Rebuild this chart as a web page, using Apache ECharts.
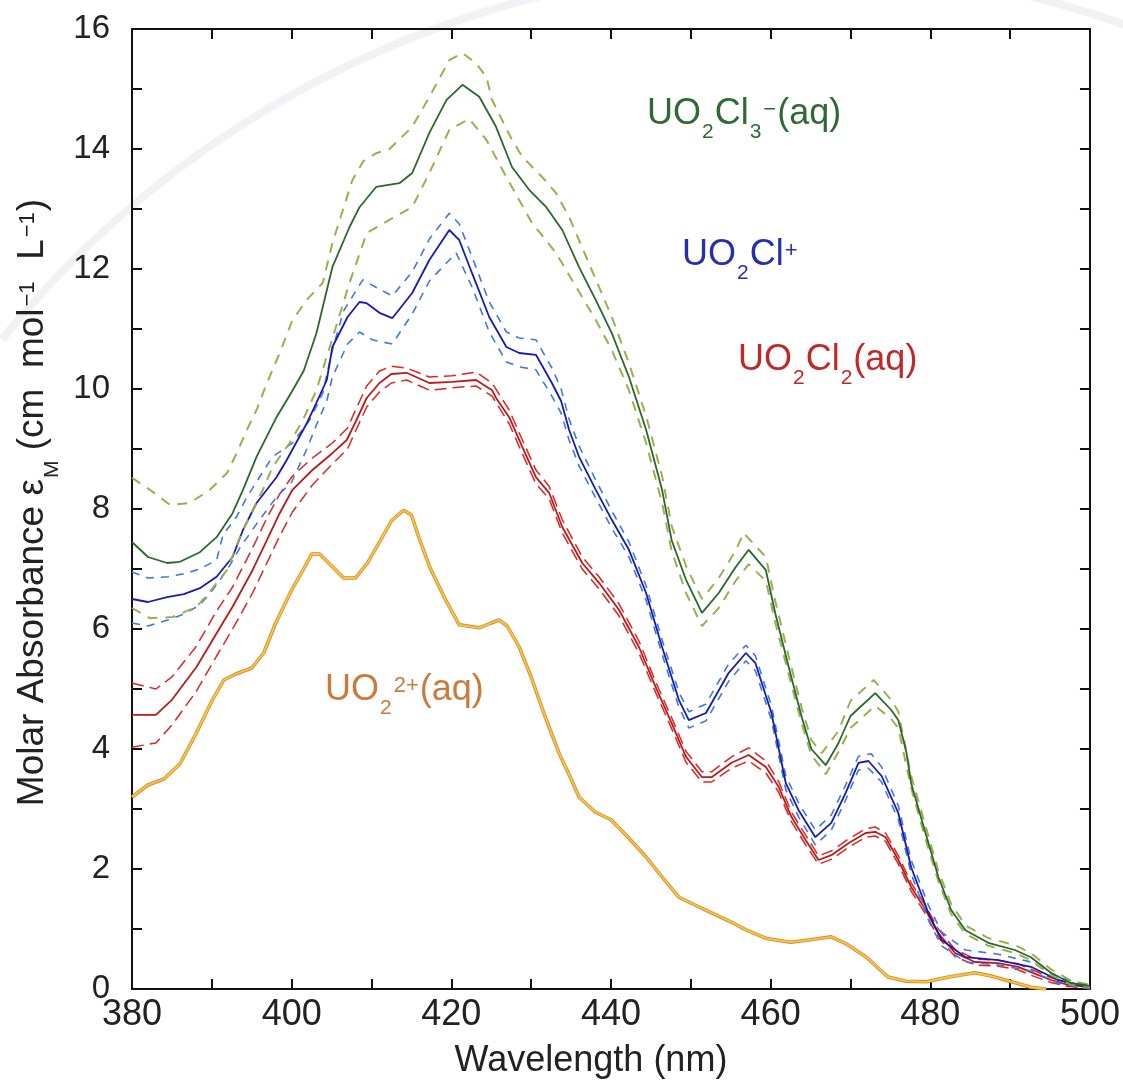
<!DOCTYPE html>
<html>
<head>
<meta charset="utf-8">
<script src="https://cdn.jsdelivr.net/npm/echarts@6/dist/echarts.min.js"></script>
<style>html,body{margin:0;padding:0;background:#fff}#c{width:1123px;height:1085px}</style>
</head>
<body>
<div id="c"></div>
<script>
// ---------- data (wavelength nm, molar absorbance) ----------
const uo2 = [[380,3.2],[382,3.4],[384,3.5],[386,3.75],[388,4.25],[390,4.8],[391.5,5.15],[393,5.25],[395,5.35],[396.5,5.6],[398,6.1],[400,6.65],[401.5,7.0],[402.5,7.25],[403.5,7.25],[405,7.05],[406.5,6.85],[408,6.85],[409.5,7.1],[411,7.45],[412.5,7.8],[414,7.98],[415,7.9],[416,7.5],[417.3,7.03],[419.3,6.48],[421,6.07],[423.5,6.02],[425,6.1],[426,6.15],[427,6.05],[428.5,5.7],[430,5.2],[431,4.82],[432,4.45],[433.5,3.93],[435,3.5],[436,3.2],[438,2.95],[440,2.82],[442,2.55],[444.4,2.2],[446.5,1.85],[448.5,1.53],[450.5,1.4],[452.6,1.27],[455,1.12],[457,0.98],[459.5,0.84],[462.5,0.78],[465,0.82],[467.6,0.87],[469.5,0.75],[472,0.53],[474.7,0.2],[477,0.13],[479.5,0.12],[482.3,0.2],[485.6,0.27],[487.5,0.22],[489.4,0.15],[492.6,0.03],[494.5,0]];

const uo2cl3 = [[380,7.45],[382,7.2],[384.4,7.1],[386,7.12],[388.5,7.28],[390.6,7.53],[392.6,7.93],[393.9,8.32],[395.6,8.87],[398.1,9.53],[400,9.95],[401.5,10.3],[403.1,10.93],[405.1,12.03],[407.25,12.7],[408.5,13.03],[410.6,13.37],[413.5,13.43],[415.1,13.6],[417.25,14.27],[419.4,14.82],[421.4,15.07],[423.5,14.87],[425.6,14.37],[427.6,13.7],[429.75,13.32],[431.9,13.03],[433.9,12.65],[436,12.03],[438.1,11.48],[440.1,10.93],[442.25,10.2],[444.4,9.32],[446.4,8.32],[447.6,7.48],[449.4,6.82],[451.4,6.27],[453.5,6.6],[455.6,7.03],[457.25,7.32],[459.4,6.98],[460.6,6.25],[462.25,5.37],[463.9,4.53],[465.1,4.0],[466.9,3.73],[468.5,4.1],[470,4.55],[473.1,4.93],[475.1,4.65],[476,4.48],[477,3.95],[477.6,3.43],[479.4,2.6],[481,1.87],[482.6,1.32],[484.4,0.98],[487.25,0.77],[490.6,0.65],[492.6,0.53],[495.1,0.27],[497.6,0.1],[500,0.05]];
const uo2cl3Upper = [[380,8.52],[382.25,8.32],[384.75,8.07],[387.25,8.1],[389.75,8.32],[391.9,8.6],[393.1,8.93],[394.4,9.32],[395.6,9.65],[396.9,10.1],[398.5,10.6],[400.1,11.15],[402,11.5],[403.9,11.77],[405.1,12.43],[407.6,13.48],[409,13.8],[410.6,13.93],[412.25,14.0],[415.1,14.37],[417.25,14.87],[419.75,15.48],[421.4,15.6],[423.1,15.43],[424.4,15.2],[425.1,14.82],[427.6,14.15],[428.9,13.87],[431.4,13.53],[433.1,13.27],[434.75,12.87],[436.9,12.2],[440.1,11.2],[442.25,10.43],[444.4,9.55],[446.4,8.55],[447.6,7.72],[449.4,7.05],[451.4,6.5],[453.5,6.85],[455.6,7.3],[456.6,7.6],[459.4,7.2],[460.6,6.45],[462.25,5.55],[463.9,4.68],[465.1,4.15],[466.4,3.93],[468.5,4.3],[470,4.8],[472.9,5.15],[475.1,4.82],[476,4.62],[477.6,3.55],[479.4,2.72],[481,1.97],[482.6,1.42],[484.4,1.06],[487.25,0.85],[490.6,0.73],[492.6,0.6],[495.1,0.33],[497.6,0.14],[500,0.07]];
const uo2cl3Lower = [[380,6.35],[382.25,6.18],[385.1,6.2],[388.1,6.37],[390.1,6.68],[391.9,6.98],[393.5,7.53],[395.1,7.98],[396.4,8.32],[397.6,8.7],[399.75,9.1],[401.4,9.48],[403.1,9.98],[405,10.8],[407.25,11.77],[409.4,12.6],[412.25,12.82],[415.1,13.03],[417.25,13.6],[419.75,14.32],[422.25,14.5],[424.4,14.15],[426.9,13.53],[428.5,13.15],[430.1,12.77],[433.1,12.27],[435.1,11.82],[438.1,11.15],[440.1,10.65],[442.25,9.98],[444.4,9.1],[446.4,8.1],[447.6,7.3],[449.4,6.6],[451.4,6.05],[453.5,6.35],[455.6,6.8],[457.25,7.08],[459.4,6.8],[460.6,6.1],[462.25,5.25],[463.9,4.42],[465.1,3.9],[466.9,3.58],[468.5,3.95],[470,4.35],[473.1,4.72],[475.1,4.5],[476,4.35],[477.6,3.35],[479.4,2.5],[481,1.8],[482.6,1.25],[484.4,0.92],[487.25,0.72],[490.6,0.6],[492.6,0.48],[495.1,0.23],[497.6,0.08],[500,0.03]];

const uo2cl = [[380,6.5],[382,6.45],[384.4,6.53],[386.5,6.58],[388.5,6.68],[390.6,6.87],[392.6,7.2],[393.9,7.65],[395.6,8.1],[398.1,8.53],[399.4,8.82],[401.9,9.43],[403.1,9.77],[404.4,10.15],[405.1,10.7],[407,11.2],[408.5,11.45],[409.4,11.43],[411,11.27],[412.6,11.18],[415.1,11.6],[417.25,12.15],[419.75,12.65],[421,12.48],[422.6,11.93],[424.75,11.2],[426.9,10.7],[428.5,10.6],[430.6,10.57],[432.6,10.1],[433.75,9.8],[434.75,9.32],[436,8.87],[438.1,8.32],[440.1,7.82],[442.25,7.32],[444.4,6.6],[446.4,5.7],[448.5,4.82],[449.75,4.48],[451.9,4.6],[454.75,5.27],[456.9,5.6],[458.1,5.43],[460.1,4.6],[461.9,3.43],[463.5,2.98],[465.6,2.53],[467.6,2.77],[469.4,3.27],[471,3.77],[472.25,3.8],[473.9,3.55],[476,2.93],[477.6,2.03],[479.75,1.27],[481.4,0.82],[484.4,0.53],[488.5,0.48],[492.6,0.37],[496,0.15],[499.75,0.03]];
const uo2clUpper = [[380,6.95],[382,6.85],[384.5,6.87],[386.5,6.92],[388.5,7.0],[390.6,7.15],[391.4,7.57],[393.1,7.87],[394.4,8.2],[397.6,8.87],[400.1,9.1],[402.25,9.48],[403.9,9.93],[405,10.6],[406.5,11.3],[408.9,11.82],[410.5,11.7],[412.6,11.55],[415.1,11.95],[417.25,12.5],[419.75,12.93],[421,12.75],[422.6,12.2],[424.75,11.45],[426.9,10.95],[428.5,10.85],[430.6,10.82],[432.6,10.35],[433.75,10.0],[434.75,9.5],[436,9.05],[438.1,8.48],[440.1,7.97],[442.25,7.45],[444.4,6.72],[446.4,5.82],[448.5,4.95],[449.75,4.62],[451.9,4.75],[454.75,5.42],[456.9,5.73],[458.1,5.55],[460.1,4.72],[461.9,3.55],[463.5,3.1],[465.6,2.65],[467.6,2.9],[469.4,3.4],[471,3.88],[472.6,3.92],[473.9,3.7],[476,3.05],[477.6,2.15],[479.75,1.4],[481.4,0.95],[484.4,0.65],[488.5,0.58],[492.6,0.45],[496,0.2],[500,0.05]];
const uo2clLower = [[380,6.1],[382,6.05],[384.5,6.15],[386.5,6.25],[388.5,6.4],[390.1,6.65],[391.9,6.98],[393.5,7.35],[395.6,7.75],[398.1,8.2],[400,8.45],[401.9,9.0],[403.1,9.4],[404.4,9.8],[405.1,10.2],[407,10.75],[408.5,10.95],[410.1,10.82],[412.6,10.75],[415.1,11.25],[417.25,11.8],[420.6,12.27],[422.6,11.7],[424.75,10.95],[426.9,10.45],[428.5,10.37],[430.6,10.32],[432.6,9.88],[433.75,9.6],[434.75,9.15],[436,8.72],[438.1,8.18],[440.1,7.68],[442.25,7.2],[444.4,6.48],[446.4,5.58],[448.5,4.7],[449.75,4.35],[451.9,4.47],[454.75,5.13],[456.9,5.47],[458.1,5.3],[460.1,4.48],[461.9,3.32],[463.5,2.87],[465.6,2.4],[467.6,2.65],[469.4,3.15],[471,3.65],[472.25,3.68],[473.9,3.45],[476,2.82],[477.6,1.92],[479.75,1.15],[481.4,0.72],[484.4,0.45],[488.5,0.4],[492.6,0.3],[496,0.1],[500,0.0]];

const uo2cl2 = [[380,4.57],[383,4.57],[385,4.82],[388.1,5.37],[390.6,5.93],[392.6,6.37],[395.1,6.98],[396.9,7.48],[398.5,7.93],[400.1,8.32],[402.6,8.65],[405.1,8.93],[406.9,9.15],[408,9.45],[409.4,9.85],[411,10.1],[412.5,10.25],[414.4,10.27],[417.25,10.1],[420.1,10.12],[423.1,10.15],[425.1,9.98],[425.6,9.85],[427.25,9.53],[428.9,9.03],[430.6,8.53],[432.25,8.27],[433.9,7.7],[436.4,7.1],[438.5,6.77],[441,6.32],[443.5,5.7],[445.6,5.03],[447.6,4.43],[449.4,3.87],[451.4,3.53],[452.6,3.53],[455.1,3.77],[457.25,3.9],[459.4,3.7],[461,3.37],[462.6,2.87],[464.4,2.48],[466,2.15],[467.6,2.23],[469.75,2.43],[471.9,2.6],[473.1,2.62],[474.4,2.53],[476,2.15],[477.6,1.7],[479.4,1.32],[481,0.93],[483.1,0.6],[485.6,0.45],[488.5,0.43],[491,0.37],[492.6,0.28],[495.1,0.15],[497.25,0.07],[500,0.03]];
const uo2cl2Upper = [[380,5.1],[383,5.0],[385,5.2],[388,5.7],[390.6,6.3],[392.6,6.7],[395.1,7.35],[396.9,7.85],[398.5,8.25],[400.1,8.55],[402.6,8.85],[405.1,9.1],[407,9.35],[408,9.65],[409.4,10.05],[411,10.3],[412.5,10.38],[414.4,10.35],[417.25,10.2],[420.1,10.22],[423.1,10.28],[425.1,10.1],[427.25,9.65],[428.9,9.15],[430.6,8.65],[432.25,8.38],[433.9,7.82],[436.4,7.2],[438.5,6.87],[441,6.42],[443.5,5.8],[445.6,5.12],[447.6,4.52],[449.4,3.96],[451.4,3.62],[452.6,3.62],[455.1,3.87],[457.25,4.02],[459.4,3.8],[461,3.46],[462.6,2.95],[464.4,2.56],[466,2.22],[467.6,2.3],[469.75,2.5],[471.9,2.67],[473.1,2.7],[474.4,2.6],[476,2.22],[477.6,1.77],[479.4,1.39],[481,1.0],[483.1,0.66],[485.6,0.5],[488.5,0.48],[491,0.42],[492.6,0.33],[495.1,0.19],[497.25,0.1],[500,0.05]];
const uo2cl2Lower = [[380,4.03],[383,4.1],[385,4.4],[388,4.95],[390.6,5.55],[392.6,6.0],[395.1,6.6],[396.9,7.1],[398.5,7.55],[400.1,7.95],[402.6,8.4],[405.1,8.75],[407,9.0],[408,9.3],[409.4,9.7],[411,9.95],[412.5,10.1],[414.4,10.15],[417.25,9.98],[420.1,10.02],[423.1,10.05],[425.1,9.88],[427.25,9.42],[428.9,8.92],[430.6,8.42],[432.25,8.17],[433.9,7.6],[436.4,7.0],[438.5,6.67],[441,6.22],[443.5,5.6],[445.6,4.94],[447.6,4.34],[449.4,3.78],[451.4,3.45],[452.6,3.45],[455.1,3.68],[457.25,3.8],[459.4,3.6],[461,3.28],[462.6,2.79],[464.4,2.4],[466,2.08],[467.6,2.16],[469.75,2.36],[471.9,2.53],[473.1,2.55],[474.4,2.46],[476,2.08],[477.6,1.63],[479.4,1.25],[481,0.86],[483.1,0.54],[485.6,0.4],[488.5,0.38],[491,0.32],[492.6,0.23],[495.1,0.11],[497.25,0.04],[500,0.01]];

const xMin = 380, xMax = 500, xStep = 10, xLabelStep = 20;
const yMin = 0, yMax = 16, yStep = 1, yLabelStep = 2;

// ---------- chart ----------
const FONT = 'Liberation Sans';
const chart = echarts.init(document.getElementById('c'), null, {renderer: 'canvas'});

function line(data, color, width, dashed, z) {
  return {
    type: 'line', data: data, showSymbol: false, symbol: 'none', smooth: false,
    xAxisIndex: 0, yAxisIndex: 0, z: z, animation: false, silent: true,
    lineStyle: {color: color, width: width, type: dashed ? dashed : 'solid'}
  };
}

const axisCommon = {
  type: 'value',
  axisLine: {show: true, onZero: false, lineStyle: {color: '#111', width: 2}},
  axisTick: {show: true, inside: true, length: 10, lineStyle: {color: '#111', width: 2}},
  splitLine: {show: false}
};

function richAnno(txt, color) {
  return {
    type: 'text', z: 100,
    style: {
      text: txt, fill: color, font: '36px "' + FONT + '"', verticalAlign: 'top', align: 'left',
      rich: {
        m: {fontSize: 36, lineHeight: 36, fontFamily: FONT, verticalAlign: 'top', fill: color, color: color},
        s: {fontSize: 21, lineHeight: 21, fontFamily: FONT, verticalAlign: 'top', padding: [26, 1, 0, 1], fill: color, color: color},
        p: {fontSize: 22, lineHeight: 22, fontFamily: FONT, verticalAlign: 'top', padding: [3, 1, 0, 1], fill: color, color: color}
      }
    }
  };
}

const option = {
  backgroundColor: '#ffffff',
  animation: false,
  grid: {left: 132, right: 31, top: 29, bottom: 96, containLabel: false},
  xAxis: [
    Object.assign({}, axisCommon, {
      min: xMin, max: xMax, interval: xStep, position: 'bottom',
      axisLabel: {show: true, margin: 8, color: '#222', fontFamily: FONT, fontSize: 36,
        formatter: v => (v % xLabelStep === 0 ? String(v) : '')},
      name: 'Wavelength (nm)', nameLocation: 'middle', nameGap: 54,
      nameTextStyle: {fontFamily: FONT, fontSize: 36, color: '#222', padding: [0, 40, 0, 0]}
    }),
    Object.assign({}, axisCommon, {
      min: xMin, max: xMax, interval: xStep, position: 'top', axisLabel: {show: false}
    })
  ],
  yAxis: [
    Object.assign({}, axisCommon, {
      min: yMin, max: yMax, interval: yStep, position: 'left',
      axisLabel: {show: true, margin: 22, color: '#222', fontFamily: FONT, fontSize: 33,
        formatter: v => (v % yLabelStep === 0 ? String(v) : '')},
      name: '{m|Molar Absorbance ε}{s|M}{m| (cm  mol}{p|−1}{m|  L}{p|−1}{m|)}',
      nameLocation: 'middle', nameRotate: 90, nameGap: 68,
      nameTextStyle: {fontFamily: FONT, fontSize: 37, color: '#222', padding: [0, 0, 0, 13],
        rich: {
          m: {fontSize: 37, lineHeight: 37, fontFamily: FONT, color: '#222', verticalAlign: 'top'},
          s: {fontSize: 21, lineHeight: 21, fontFamily: FONT, color: '#222', verticalAlign: 'top', padding: [27, 0, 0, 1]},
          p: {fontSize: 22, lineHeight: 22, fontFamily: FONT, color: '#222', verticalAlign: 'top', padding: [3, 1, 0, 2]}
        }}
    }),
    Object.assign({}, axisCommon, {
      min: yMin, max: yMax, interval: yStep, position: 'right', axisLabel: {show: false}
    })
  ],
  series: [
    line(uo2, '#d4883a', 3.5, null, 2),
    line(uo2, '#f7c93e', 1.8, null, 3),
    line(uo2cl2Upper, '#e02424', 1.5, [12, 6], 4),
    line(uo2cl2Lower, '#e02424', 1.5, [12, 6], 4),
    line(uo2cl2, '#b81c1c', 1.8, null, 5),
    line(uo2clUpper, '#3f7ad6', 1.6, [8, 7], 6),
    line(uo2clLower, '#3f7ad6', 1.6, [8, 7], 6),
    line(uo2cl, '#1a1ab0', 1.8, null, 7),
    line(uo2cl3Upper, '#9cae52', 2, [10, 8], 8),
    line(uo2cl3Lower, '#9cae52', 2, [10, 8], 8),
    line(uo2cl3, '#2a682c', 1.8, null, 9)
  ],
  graphic: [
    {type: 'arc', z: -10, silent: true,
     shape: {cx: 785, cy: 974, r: 1008, startAngle: -2.46, endAngle: -1.15, clockwise: true},
     style: {stroke: '#f1f2f5', lineWidth: 8, fill: null}},
    Object.assign(richAnno('{m|UO}{s|2}{m|Cl}{s|3}{p|−}{m|(aq)}', '#2e6a34'), {x: 647, y: 96}),
    Object.assign(richAnno('{m|UO}{s|2}{m|Cl}{p|+}', '#2630ae'), {x: 682, y: 237}),
    Object.assign(richAnno('{m|UO}{s|2}{m|Cl}{s|2}{m|(aq)}', '#c0282a'), {x: 738, y: 342}),
    Object.assign(richAnno('{m|UO}{s|2}{p|2+}{m|(aq)}', '#cc7a3a'), {x: 325, y: 672})
  ]
};
chart.setOption(option);
</script>
</body>
</html>
